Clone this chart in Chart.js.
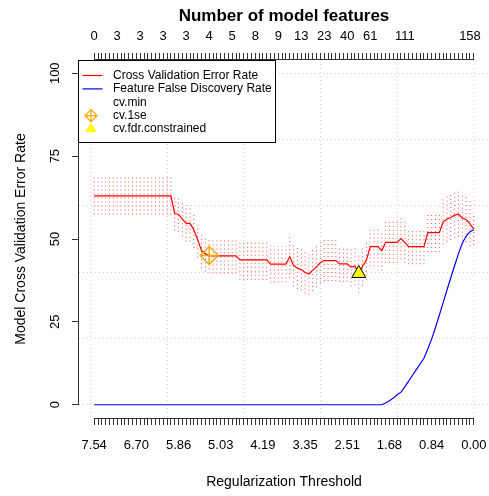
<!DOCTYPE html>
<html>
<head>
<meta charset="utf-8">
<script src="https://cdn.jsdelivr.net/npm/chart.js@4.4.1/dist/chart.umd.min.js"></script>
<style>
  html, body { margin: 0; padding: 0; background: #fff; }
  canvas { display: block; }
</style>
</head>
<body>
<canvas id="cvChart" width="489" height="496"></canvas>
<script>
/* ============================================================
   CV error / feature FDR along the regularization path
   ============================================================ */

const FONT = "'Liberation Sans', Arial, Helvetica, sans-serif";

// bottom axis: regularization threshold, placed at lambda-path index
const LAMBDA_LABELS    = ['7.54','6.70','5.86','5.03','4.19','3.35','2.51','1.68','0.84','0.00'];
const LAMBDA_LABEL_IDX = [1, 12, 23, 34, 45, 56, 67, 78, 89, 100];

// top axis: number of model features
const FEATURE_LABELS    = ['0','3','3','3','3','4','5','8','9','13','23','40','61','111','158'];
const FEATURE_LABEL_IDX = [1, 7, 13, 19, 25, 31, 37, 43, 49, 55, 61, 67, 73, 82, 99];

const Y_TICKS = [0, 25, 50, 75, 100];
const GRID_X  = [0, 20, 40, 60, 80, 100];
const GRID_Y  = [0, 20, 40, 60, 80, 100];

// cross validation error rate, one value per lambda (index 1..100)
const CV_ERROR = [
  63.0, 63.0, 63.0, 63.0, 63.0, 63.0, 63.0, 63.0, 63.0, 63.0,
  63.0, 63.0, 63.0, 63.0, 63.0, 63.0, 63.0, 63.0, 63.0, 63.0,
  63.0, 57.7, 57.4, 56.0, 54.7, 54.7, 52.7, 49.8, 46.5, 45.5,
  45.0, 44.9, 44.9, 44.9, 44.9, 44.9, 44.9, 44.9, 43.7, 43.7,
  43.7, 43.7, 43.7, 43.7, 43.7, 43.7, 42.4, 42.4, 42.4, 42.4,
  42.4, 44.7, 42.0, 41.2, 40.8, 39.9, 39.5, 40.6, 41.6, 42.9,
  43.5, 43.5, 43.5, 43.5, 42.5, 42.5, 42.5, 41.5, 41.8, 39.6,
  41.8, 43.7, 47.7, 47.7, 47.7, 46.5, 49.0, 49.0, 49.0, 49.0,
  50.1, 49.0, 47.7, 47.7, 47.7, 47.7, 47.7, 51.9, 51.9, 51.9,
  51.9, 55.2, 56.0, 56.5, 57.2, 57.5, 56.3, 55.9, 54.6, 53.0
];

// standard error of the CV error (dotted bars)
const CV_SE = [
  5.6, 5.6, 5.6, 5.6, 5.6, 5.6, 5.6, 5.6, 5.6, 5.6,
  5.6, 5.6, 5.6, 5.6, 5.6, 5.6, 5.6, 5.6, 5.6, 5.6,
  5.6, 5.2, 5.2, 5.2, 5.5, 5.5, 5.4, 5.4, 5.3, 5.3,
  5.3, 5.3, 5.3, 5.3, 5.3, 5.3, 5.3, 5.3, 6.0, 6.0,
  6.0, 6.0, 6.0, 6.0, 6.0, 6.0, 5.5, 5.5, 5.5, 5.5,
  5.5, 6.5, 6.3, 6.3, 6.3, 6.3, 6.3, 6.3, 6.2, 6.2,
  6.2, 6.2, 6.2, 6.2, 5.4, 5.4, 5.4, 5.8, 5.8, 5.8,
  5.8, 6.0, 6.0, 6.0, 6.0, 6.0, 6.2, 6.2, 6.2, 6.2,
  6.2, 6.2, 5.3, 5.3, 5.3, 5.3, 5.3, 5.8, 5.8, 5.8,
  5.8, 6.8, 6.8, 6.8, 6.8, 6.8, 6.8, 6.8, 6.8, 4.8
];

// feature false discovery rate
const FDR = [
  0, 0, 0, 0, 0, 0, 0, 0, 0, 0,
  0, 0, 0, 0, 0, 0, 0, 0, 0, 0,
  0, 0, 0, 0, 0, 0, 0, 0, 0, 0,
  0, 0, 0, 0, 0, 0, 0, 0, 0, 0,
  0, 0, 0, 0, 0, 0, 0, 0, 0, 0,
  0, 0, 0, 0, 0, 0, 0, 0, 0, 0,
  0, 0, 0, 0, 0, 0, 0, 0, 0, 0,
  0, 0, 0, 0, 0, 0, 0.5, 1.2, 2.0, 3.0,
  3.8, 5.4, 7.1, 8.9, 10.6, 12.3, 14.0, 16.8, 19.8, 23.3,
  27.0, 30.8, 34.6, 38.3, 42.0, 45.6, 48.7, 50.9, 52.2, 52.8
];

const CV_1SE_IDX = 31;   // lambda index picked by the 1-se rule
const CV_FDR_IDX = 70;   // lambda index picked under the FDR constraint

const LEGEND_LABELS = ['Cross Validation Error Rate', 'Feature False Discovery Rate', 'cv.min', 'cv.1se', 'cv.fdr.constrained'];

const PATH_IDX = CV_ERROR.map((_, i) => i + 1);

// R pads the data range by 4% on each side
const X_MIN = -2.96, X_MAX = 103.96;
const Y_MIN = -4,    Y_MAX = 104;

function fixedTicks(values) {
  return scale => { scale.ticks = values.map(v => ({ value: v })); };
}
function fixedSize(height, width) {
  return scale => {
    if (height != null) scale.height = height;
    if (width  != null) scale.width  = width;
    scale.paddingLeft = scale.paddingRight = scale.paddingTop = scale.paddingBottom = 0;
  };
}
function labelAt(positions, labels) {
  return v => { const k = positions.indexOf(v); return k < 0 ? '' : labels[k]; };
}

const seData = [];
CV_ERROR.forEach((v, i) => {
  seData.push({ x: i + 1, y: v - CV_SE[i] }, { x: i + 1, y: v + CV_SE[i] }, { x: i + 1, y: null });
});

function drawLegend(chart) {
  const { ctx, chartArea: ca } = chart;
  const left = Math.round(ca.left) - 0.5, top = Math.round(ca.top) + 0.5;
  ctx.save();
  ctx.font = '12px ' + FONT;
  const textW = Math.max(...LEGEND_LABELS.map(t => ctx.measureText(t).width));
  const w = Math.round(34 + textW + 4), h = 82;
  ctx.fillStyle = '#fff';
  ctx.fillRect(left, top, w, h);
  ctx.strokeStyle = '#000'; ctx.lineWidth = 1;
  ctx.strokeRect(left, top, w, h);
  ctx.textBaseline = 'middle'; ctx.textAlign = 'left';
  LEGEND_LABELS.forEach((t, k) => {
    const yy = top + 15 + k * 13.4;
    const cx = left + 12.5;
    if (k === 0 || k === 1) {
      ctx.strokeStyle = k === 0 ? '#ff0000' : '#0000ff';
      ctx.lineWidth = 1.2;
      ctx.beginPath(); ctx.moveTo(left + 4, yy); ctx.lineTo(left + 24, yy); ctx.stroke();
    } else if (k === 3) {
      const r = 6;
      ctx.strokeStyle = '#ffa500'; ctx.lineWidth = 1.2;
      ctx.beginPath();
      ctx.moveTo(cx - r, yy); ctx.lineTo(cx, yy - r); ctx.lineTo(cx + r, yy); ctx.lineTo(cx, yy + r); ctx.closePath();
      ctx.moveTo(cx - r, yy); ctx.lineTo(cx + r, yy);
      ctx.moveTo(cx, yy - r); ctx.lineTo(cx, yy + r);
      ctx.stroke();
    } else if (k === 4) {
      const r = 6.5;
      ctx.fillStyle = '#ffff00';
      ctx.beginPath();
      ctx.moveTo(cx, yy - r); ctx.lineTo(cx + 0.866 * r, yy + 0.5 * r); ctx.lineTo(cx - 0.866 * r, yy + 0.5 * r);
      ctx.closePath(); ctx.fill();
    }
    ctx.fillStyle = '#000';
    ctx.fillText(t, left + 34.5, yy);
  });
  ctx.restore();
}

// R-style axis lines: drawn only from first to last tick, then the legend box
const rFrame = {
  id: 'rFrame',
  afterDatasetsDraw(chart) {
    const { ctx, chartArea: ca, scales: { x, y } } = chart;
    const x0 = x.getPixelForValue(PATH_IDX[0]);
    const x1 = x.getPixelForValue(PATH_IDX[PATH_IDX.length - 1]);
    const y0 = y.getPixelForValue(Y_TICKS[0]);
    const y1 = y.getPixelForValue(Y_TICKS[Y_TICKS.length - 1]);
    const yb = Math.round(ca.bottom) + 0.5, yt = Math.round(ca.top) - 0.5, xl = Math.round(ca.left) - 0.5;
    ctx.save();
    ctx.strokeStyle = '#333'; ctx.lineWidth = 1;
    ctx.beginPath();
    ctx.moveTo(x0, yb); ctx.lineTo(x1, yb);
    ctx.moveTo(x0, yt); ctx.lineTo(x1, yt);
    ctx.moveTo(xl, y0); ctx.lineTo(xl, y1);
    ctx.stroke();
    ctx.restore();
    drawLegend(chart);
  }
};

const titleFont = { family: FONT, size: 14 };

new Chart(document.getElementById('cvChart'), {
  type: 'line',
  data: {
    datasets: [
      { label: 'se', data: seData, borderColor: 'rgba(255,0,0,0.7)', borderWidth: 1, borderDash: [1, 3],
        pointRadius: 0, spanGaps: false, order: 5 },
      { label: 'Cross Validation Error Rate', data: CV_ERROR.map((v, i) => ({ x: i + 1, y: v })),
        borderColor: '#ff0000', borderWidth: 1.2, pointRadius: 0, order: 4 },
      { label: 'Feature False Discovery Rate', data: FDR.map((v, i) => ({ x: i + 1, y: v })),
        borderColor: '#0000ff', borderWidth: 1.2, pointRadius: 0, order: 3 },
      { label: 'cv.1se', data: [{ x: CV_1SE_IDX, y: CV_ERROR[CV_1SE_IDX - 1] }], showLine: false,
        pointStyle: 'rectRot', pointRadius: 9, pointBorderColor: '#ffa500', pointBackgroundColor: 'rgba(0,0,0,0)',
        pointBorderWidth: 1.4, order: 2 },
      { label: 'cv.1se cross', data: [{ x: CV_1SE_IDX, y: CV_ERROR[CV_1SE_IDX - 1] }], showLine: false,
        pointStyle: 'cross', pointRadius: 9, pointBorderColor: '#ffa500', pointBorderWidth: 1.4, order: 1 },
      { label: 'cv.fdr.constrained', data: [{ x: CV_FDR_IDX, y: CV_ERROR[CV_FDR_IDX - 1] }], showLine: false,
        pointStyle: 'triangle', pointRadius: 8, pointBackgroundColor: '#ffff00', pointBorderColor: '#000',
        pointBorderWidth: 1, order: 0 }
    ]
  },
  options: {
    responsive: false, devicePixelRatio: 1, animation: false,
    // no auto padding for marker overflow: the plot region runs to the right edge as in R
    layout: { padding: 0, autoPadding: false },
    plugins: { legend: { display: false }, tooltip: { enabled: false } },
    scales: {
      x: {
        type: 'linear', axis: 'x', position: 'bottom', min: X_MIN, max: X_MAX,
        afterBuildTicks: fixedTicks(PATH_IDX), afterFit: fixedSize(78, null),
        grid: { drawOnChartArea: false, drawTicks: true, tickLength: 7, tickColor: '#333' },
        border: { display: false },
        ticks: { autoSkip: false, minRotation: 0, maxRotation: 0, padding: 0, color: '#000',
                 font: { family: FONT, size: 13, lineHeight: 3.2 },
                 callback: labelAt(LAMBDA_LABEL_IDX, LAMBDA_LABELS) },
        title: { display: true, text: 'Regularization Threshold', color: '#000', font: titleFont, padding: { top: 0, bottom: 5 } }
      },
      x2: {
        type: 'linear', axis: 'x', position: 'top', min: X_MIN, max: X_MAX,
        afterBuildTicks: fixedTicks(PATH_IDX), afterFit: fixedSize(60, null),
        grid: { drawOnChartArea: false, drawTicks: true, tickLength: 7, tickColor: '#333' },
        border: { display: false },
        ticks: { autoSkip: false, minRotation: 0, maxRotation: 0, padding: 0, color: '#000',
                 font: { family: FONT, size: 13, lineHeight: 2.6 },
                 callback: labelAt(FEATURE_LABEL_IDX, FEATURE_LABELS) },
        title: { display: true, text: 'Number of model features', color: '#000',
                 font: { family: FONT, size: 17, weight: 'bold' }, padding: { top: 6, bottom: 0 } }
      },
      xg: {
        type: 'linear', axis: 'x', position: 'bottom', min: X_MIN, max: X_MAX,
        afterBuildTicks: fixedTicks(GRID_X), afterFit: fixedSize(0, null),
        ticks: { display: false },
        grid: { color: '#d3d3d3', drawTicks: false, lineWidth: 1 },
        border: { display: false, dash: [1, 3] }
      },
      y: {
        type: 'linear', axis: 'y', position: 'left', min: Y_MIN, max: Y_MAX,
        afterBuildTicks: fixedTicks(Y_TICKS), afterFit: fixedSize(null, 79),
        grid: { drawOnChartArea: false, drawTicks: true, tickLength: 7, tickColor: '#333' },
        border: { display: false },
        ticks: { minRotation: 90, maxRotation: 90, crossAlign: 'center', padding: 6, color: '#000',
                 font: { family: FONT, size: 13 } },
        title: { display: true, text: 'Model Cross Validation Error Rate', color: '#000', font: titleFont,
                 padding: { top: 13, bottom: 0 } }
      },
      yg: {
        type: 'linear', axis: 'y', position: 'left', min: Y_MIN, max: Y_MAX,
        afterBuildTicks: fixedTicks(GRID_Y), afterFit: fixedSize(null, 0),
        ticks: { display: false },
        grid: { color: '#d3d3d3', drawTicks: false, lineWidth: 1 },
        border: { display: false, dash: [1, 3] }
      }
    }
  },
  plugins: [rFrame]
});
</script>
</body>
</html>
